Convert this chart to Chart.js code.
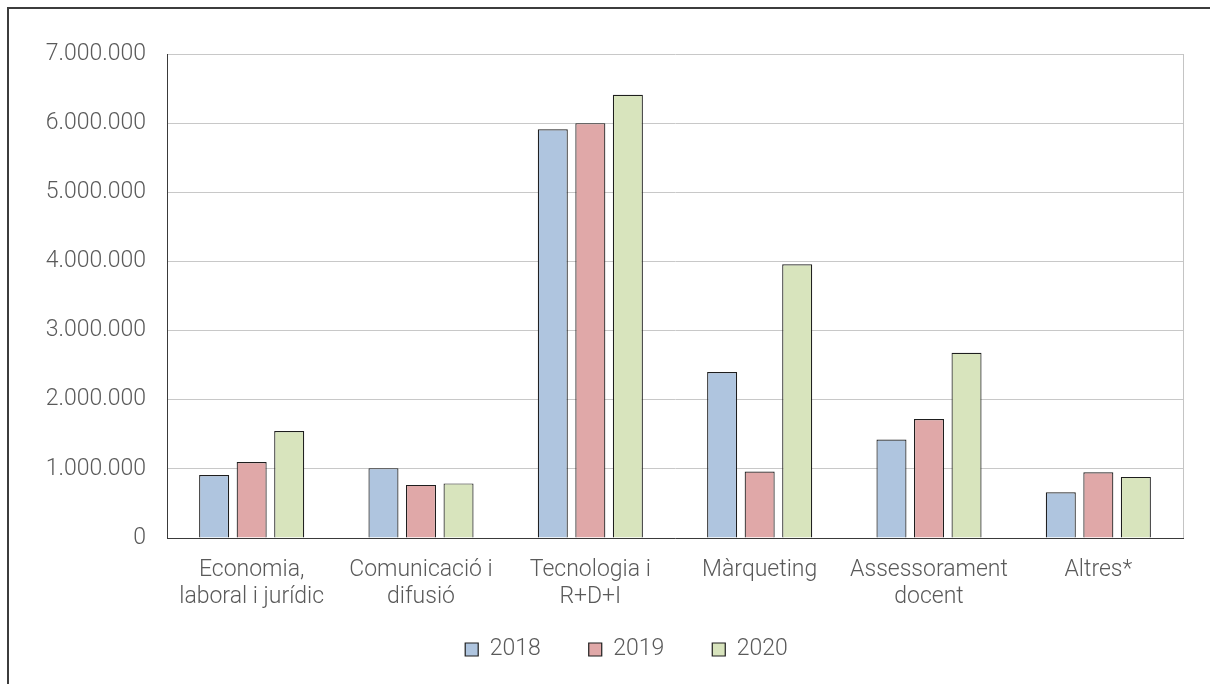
<!DOCTYPE html>
<html>
<head>
<meta charset="utf-8">
<script src="https://cdn.jsdelivr.net/npm/chart.js@4/dist/chart.umd.min.js"></script>
<style>
  html, body { margin: 0; padding: 0; background: #fff; overflow: hidden; }
  #frame {
    position: absolute; left: 7px; top: 7px;
    width: 1400px; height: 900px;
    border: 2px solid #3c3c3c;
  }
  #chart { position: absolute; left: 0; top: 0; }
</style>
</head>
<body>
<div id="frame"></div>
<canvas id="chart" width="1210" height="693"></canvas>
<script>
const categories = [
  ["Economia,", "laboral i jurídic"],
  ["Comunicació i", "difusió"],
  ["Tecnologia i", "R+D+I"],
  ["Màrqueting"],
  ["Assessorament", "docent"],
  ["Altres*"],
];
const years = ["2018", "2019", "2020"];
const values2018 = [910000, 1010000, 5910000, 2400000, 1425000, 662000];
const values2019 = [1100000, 768000, 6000000, 961000, 1720000, 952000];
const values2020 = [1546000, 790000, 6410000, 3960000, 2680000, 884000];
const fillColors = ["#afc5df", "#e0a8a8", "#d8e4bd"];

const textColor = "#5a5a5a";
Chart.defaults.font.family = "Roboto, 'Liberation Sans', Arial, sans-serif";
Chart.defaults.font.weight = 300;
Chart.defaults.font.size = 23;
Chart.defaults.color = textColor;

// thousands separator with dots
function fmt(v) {
  return String(v).replace(/\B(?=(\d{3})+(?!\d))/g, ".");
}

// light grey line closing the plot area on the right,
// and the legend moved in under the category labels
const plotExtras = {
  id: "plotExtras",
  afterLayout(chart) {
    const lg = chart.legend;
    const h = lg.bottom - lg.top;
    lg.top = chart.chartArea.bottom + 52;
    lg.bottom = lg.top + h;
    lg.left += 35;
    lg.right += 35;
  },
  afterDraw(chart) {
    const { ctx, chartArea } = chart;
    ctx.save();
    ctx.strokeStyle = "#c4c4c4";
    ctx.lineWidth = 1;
    ctx.beginPath();
    ctx.moveTo(Math.round(chartArea.right) + 0.5, chartArea.top);
    ctx.lineTo(Math.round(chartArea.right) + 0.5, chartArea.bottom);
    ctx.stroke();
    ctx.restore();
  },
};

const seriesValues = [values2018, values2019, values2020];
const datasets = years.map((year, i) => ({
  label: year,
  data: seriesValues[i],
  backgroundColor: fillColors[i],
  borderColor: "#1e1e1e",
  borderWidth: 1.2,
  barPercentage: 0.8,
  categoryPercentage: 0.665,
}));

new Chart(document.getElementById("chart"), {
  type: "bar",
  data: { labels: categories, datasets },
  plugins: [plotExtras],
  options: {
    responsive: false,
    animation: false,
    layout: { padding: { left: 0, top: 54, right: 27, bottom: 0 } },
    plugins: {
      tooltip: { enabled: false },
      legend: {
        position: "bottom",
        labels: {
          boxWidth: 13,
          boxHeight: 13,
          padding: 48,
          color: textColor,
        },
      },
    },
    scales: {
      y: {
        min: 0,
        max: 7000000,
        afterFit(scale) { scale.width = 167; },
        ticks: {
          stepSize: 1000000,
          padding: 21,
          callback: (v) => fmt(v),
        },
        grid: { color: "#c8c8c8", drawTicks: false },
        border: { color: "#3a3a3a", width: 1 },
      },
      x: {
        afterFit(scale) { scale.height = 74; },
        ticks: {
          padding: 19,
          maxRotation: 0,
          autoSkip: false,
          font: { lineHeight: 1.18 },
        },
        grid: { color: "rgba(0,0,0,0)", drawTicks: false },
        border: { color: "#3a3a3a", width: 1 },
      },
    },
  },
});
</script>
</body>
</html>
